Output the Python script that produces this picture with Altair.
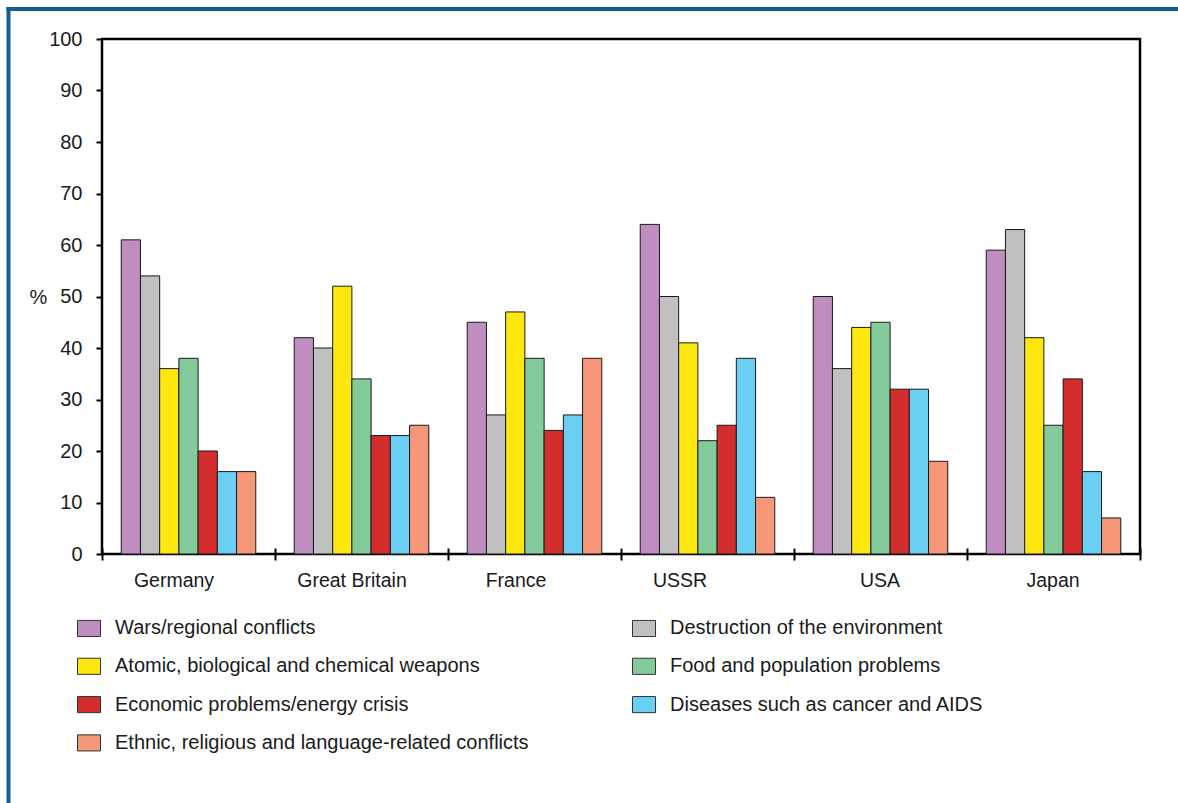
import altair as alt
import pandas as pd

# Survey: greatest perceived threats, by country (% of respondents)
countries = ["Germany", "Great Britain", "France", "USSR", "USA", "Japan"]
concerns = [
    "Wars/regional conflicts",
    "Destruction of the environment",
    "Atomic, biological and chemical weapons",
    "Food and population problems",
    "Economic problems/energy crisis",
    "Diseases such as cancer and AIDS",
    "Ethnic, religious and language-related conflicts",
]
colors = ["#bf8dbf", "#c0c0c0", "#fde70e", "#83cb9b", "#d42d2e", "#6bcff4", "#f59778"]

wars = [61, 42, 45, 64, 50, 59]
environment = [54, 40, 27, 50, 36, 63]
weapons = [36, 52, 47, 41, 44, 42]
food = [38, 34, 38, 22, 45, 25]
economy = [20, 23, 24, 25, 32, 34]
diseases = [16, 23, 27, 38, 32, 16]
ethnic = [16, 25, 38, 11, 18, 7]

series = [wars, environment, weapons, food, economy, diseases, ethnic]
rows = []
for concern, values in zip(concerns, series):
    for country, v in zip(countries, values):
        rows.append({"country": country, "concern": concern, "pct": v})
df = pd.DataFrame(rows)

# The legend fills column by column: odd entries in the left column,
# even entries in the right one, so that rows read in series order.
legend_order = concerns[0::2] + concerns[1::2]
legend_colors = colors[0::2] + colors[1::2]

# Small horizontal nudges for the country labels under each group
label_nudge = (
    "datum.value == 'Germany' ? -15 : "
    "datum.value == 'Great Britain' ? -10 : "
    "datum.value == 'France' ? -19 : "
    "datum.value == 'USSR' ? -28 : -1"
)

FONT = "Liberation Sans"
INK = "#1a1a1a"

bars = alt.Chart(df).mark_bar(stroke=INK, strokeWidth=1).encode(
    x=alt.X(
        "country:N",
        sort=countries,
        scale=alt.Scale(paddingInner=0, paddingOuter=0),
        axis=alt.Axis(
            title=None, labelAngle=0, domain=False, tickBand="extent",
            offset=-6, tickSize=12, tickWidth=2, tickColor="black",
            labelPadding=11, labelFontSize=19.5, labelColor=INK,
            labelBaseline="top", labelOffset={"expr": label_nudge},
        ),
    ),
    xOffset=alt.XOffset(
        "concern:N", sort=concerns,
        scale=alt.Scale(paddingInner=0, paddingOuter=1.0),
    ),
    y=alt.Y(
        "pct:Q",
        scale=alt.Scale(domain=[0, 100]),
        axis=alt.Axis(
            values=list(range(0, 101, 10)), title="%", titleAngle=0,
            titleX=-64, titleY=258, titleAlign="center", titleBaseline="middle",
            titleFontSize=20, titleFontWeight="normal", titleColor=INK,
            grid=False, domain=False, tickSize=6, tickWidth=2,
            tickColor="black", labelPadding=14, labelFontSize=20,
            labelColor=INK,
        ),
    ),
    color=alt.Color(
        "concern:N",
        sort=legend_order,
        scale=alt.Scale(domain=legend_order, range=legend_colors),
        legend=alt.Legend(
            title=None, orient="none", legendX=-25, legendY=577,
            columns=2, columnPadding=101, rowPadding=15.3,
            symbolType="M-1,-0.7H1V0.7H-1Z", symbolSize=529,
            symbolStrokeColor="#333333", symbolStrokeWidth=1,
            labelFontSize=20, labelOffset=14, labelLimit=700,
            labelColor=INK, padding=0,
        ),
    ),
)

# Blue page frame (left and top edges)
frame_src = pd.DataFrame({"edge": [0]})
frame_left = alt.Chart(frame_src).mark_rule(color="#155c95", strokeWidth=4).encode(
    x=alt.value(-93.5), y=alt.value(-32), y2=alt.value(800)
)
frame_top = alt.Chart(frame_src).mark_rule(color="#155c95", strokeWidth=4).encode(
    y=alt.value(-30), x=alt.value(-95.5), x2=alt.value(1120)
)

chart = (
    alt.layer(bars, frame_left, frame_top)
    .properties(
        width=1038,
        height=515,
        autosize=alt.AutoSizeParams(type="none"),
        padding={"left": 102, "top": 39, "right": 38, "bottom": 249},
        background="white",
    )
    .configure_view(stroke="black", strokeWidth=2.5)
    .configure_axis(labelFont=FONT, titleFont=FONT)
    .configure_legend(labelFont=FONT)
)

chart.save("out.html", embed_options={"renderer": "svg", "actions": False})
